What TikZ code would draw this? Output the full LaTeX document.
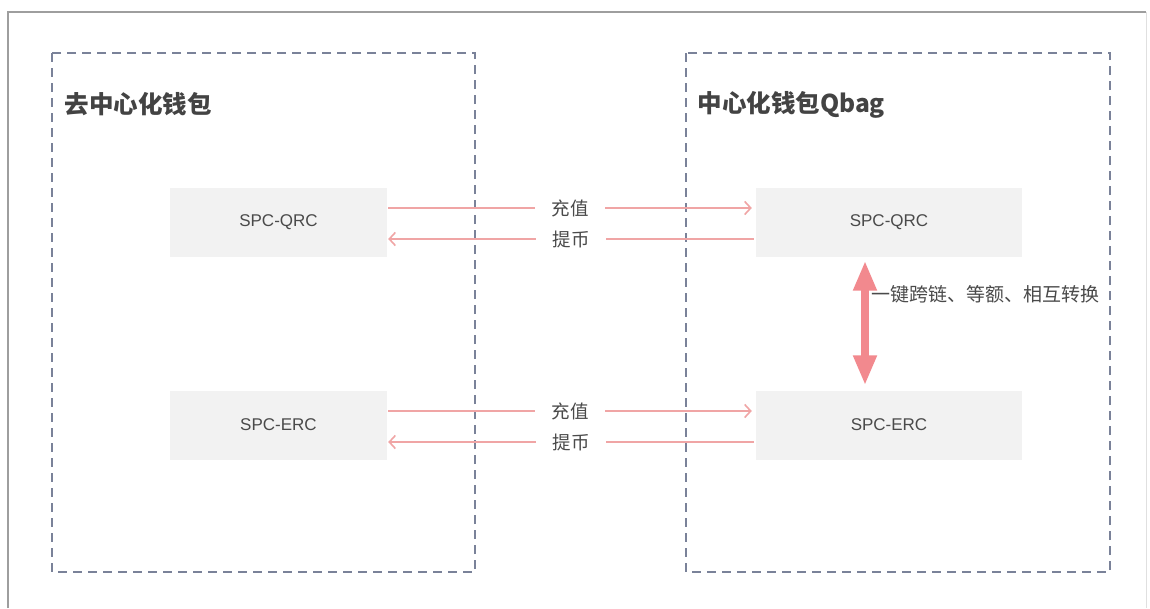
\documentclass[tikz,border=0pt]{standalone}
\usepackage{fontspec}
\setmainfont{Liberation Sans}
\newfontfamily\cjk{Noto Sans CJK SC}
\usetikzlibrary{arrows.meta,calc}
\definecolor{dashc}{HTML}{7A8299}
\definecolor{boxfill}{HTML}{F2F2F2}
\definecolor{txtc}{HTML}{4A4A4A}
\definecolor{thinar}{HTML}{F0A5A5}
\definecolor{thickar}{HTML}{F2898E}
\tikzset{
  group/.style={draw=dashc, line width=1.5pt, dash pattern=on 9pt off 6pt},
  chain/.style={fill=boxfill, draw=none, minimum height=69pt, text=txtc, font=\fontsize{17}{20}\selectfont},
  title/.style={anchor=west, text=txtc!90!black, font=\cjk\bfseries\fontsize{24.5}{28}\selectfont},
  flow/.style={draw=thinar, line width=1.6pt, -{Straight Barb[length=6pt,width=13pt,line width=1.6pt]}},
  flowlbl/.style={fill=white, inner xsep=0pt, minimum width=70pt, text=txtc, font=\cjk\fontsize{18.5}{22}\selectfont},
  swap/.style={draw=thickar, fill=thickar, line width=8pt, {Triangle[width=22pt,length=30pt]}-{Triangle[width=22pt,length=30pt]}},
  swaplbl/.style={anchor=west, inner sep=0pt, text=txtc, font=\cjk\fontsize{19}{22}\selectfont}
}
\begin{document}
\begin{tikzpicture}[x=1pt,y=-1pt]
\useasboundingbox (0,0) rectangle (1150,608);
\fill[white] (0,0) rectangle (1150,608);
% outer frame
\draw[draw=black!38, line width=1.2pt] (8,608) -- (8,12) -- (1146,12);
\draw[draw=black!12, line width=1pt] (1146,12) -- (1146,608);
% groups
\draw[group] (52,53) rectangle (475,572);
\draw[group] (686,53) rectangle (1110,572);
\node[title] (t1) at (61,104) {去中心化钱包};
\node[title] (t2) at (694,105) {中心化钱包Qbag};
% chain boxes
\node[chain, minimum width=217pt] (lq) at (278.5,222) {SPC-QRC};
\node[chain, minimum width=266pt] (rq) at (889,222) {SPC-QRC};
\node[chain, minimum width=217pt] (le) at (278.5,425) {SPC-ERC};
\node[chain, minimum width=266pt] (re) at (889,425) {SPC-ERC};
% flows top
\coordinate (a1) at ($(lq.east)+(1,-14)$);
\coordinate (b1) at ($(rq.west)+(-4,-14)$);
\coordinate (a2) at ($(rq.west)+(-2,17)$);
\coordinate (b2) at ($(lq.east)+(1,17)$);
\draw[flow] (a1) -- (b1);
\draw[flow] (a2) -- (b2);
\node[flowlbl] (l1) at ($(a1)!0.5!(b1)$) {充值};
\node[flowlbl] (l2) at ($(a2)!0.5!(b2)$) {提币};
% flows bottom
\coordinate (c1) at ($(le.east)+(1,-14)$);
\coordinate (d1) at ($(re.west)+(-4,-14)$);
\coordinate (c2) at ($(re.west)+(-2,17)$);
\coordinate (d2) at ($(le.east)+(1,17)$);
\draw[flow] (c1) -- (d1);
\draw[flow] (c2) -- (d2);
\node[flowlbl] (l3) at ($(c1)!0.5!(d1)$) {充值};
\node[flowlbl] (l4) at ($(c2)!0.5!(d2)$) {提币};
% swap
\coordinate (s1) at ($(rq.south)+(-24,4)$);
\coordinate (s2) at ($(re.north)+(-24,-5)$);
\draw[swap] (s1) -- (s2);
\node[swaplbl] (sl) at (871,294) {一键跨链、等额、相互转换};
\end{tikzpicture}
\end{document}
